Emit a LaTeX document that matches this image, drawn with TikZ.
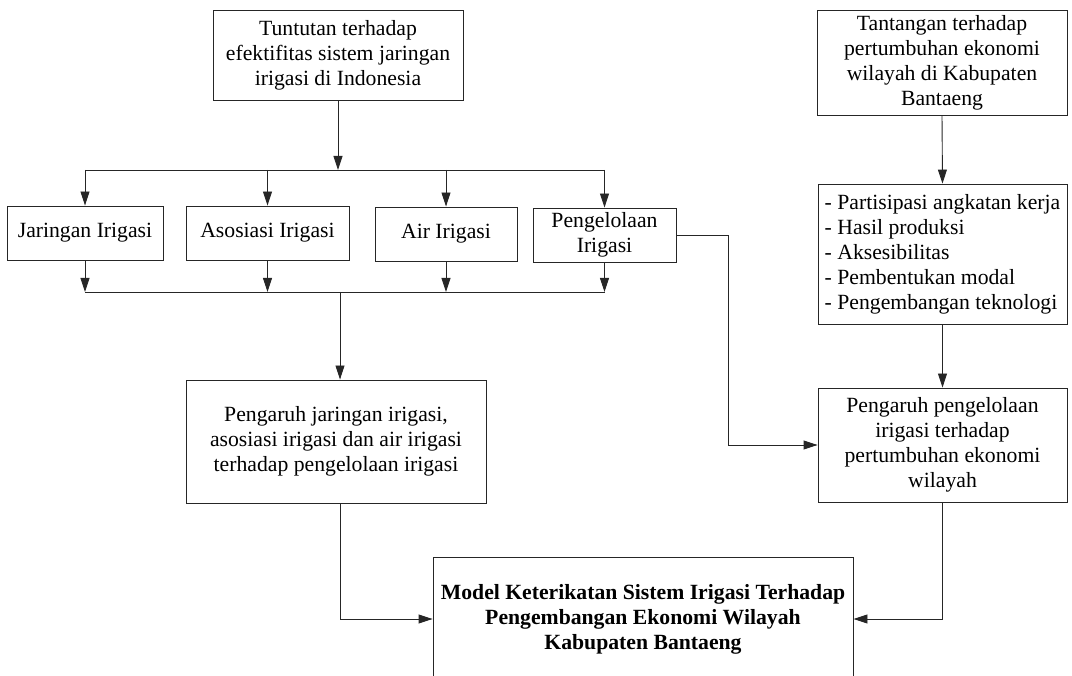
\documentclass[tikz,border=0pt]{standalone}
\usepackage{fontspec}
\setmainfont{Liberation Serif}
\usetikzlibrary{arrows.meta}
\begin{document}
\begin{tikzpicture}[x=1pt,y=-1pt,
  box/.style={draw=black!85, line width=0.9pt, inner sep=3pt, align=center,
    font=\fontsize{21.7}{25}\selectfont, text=black},
  conn/.style={draw=black!85, line width=0.9pt},
  arr/.style={conn, -{Triangle[length=14pt,width=9pt]}}]
\useasboundingbox (0,0) rectangle (1072,676);
% top-left
\node[box, minimum width=250pt, minimum height=90pt] (T) at (338,55)
  {Tuntutan terhadap\\efektifitas sistem jaringan\\irigasi di Indonesia};
% row
\node[box, minimum width=156pt, minimum height=54pt] (J) at (85,233) {Jaringan Irigasi};
\node[box, minimum width=163pt, minimum height=54pt] (A) at (267.5,233) {Asosiasi Irigasi};
\node[box, minimum width=142pt, minimum height=54pt] (W) at (446,234) {Air Irigasi};
\node[box, minimum width=143pt, minimum height=54pt] (G) at (604.5,235) {Pengelolaan\\Irigasi};
% middle left
\node[box, minimum width=300pt, minimum height=123pt] (P1) at (336,441.5)
  {Pengaruh jaringan irigasi,\\asosiasi irigasi dan air irigasi\\terhadap pengelolaan irigasi};
% bottom
\node[box, minimum width=420pt, minimum height=124pt, font=\fontsize{21.7}{25}\selectfont\bfseries] (M) at (643,619)
  {Model Keterikatan Sistem Irigasi Terhadap\\Pengembangan Ekonomi Wilayah\\Kabupaten Bantaeng};
% right column
\node[box, minimum width=250pt, minimum height=105pt] (R1) at (942,62.5)
  {Tantangan terhadap\\pertumbuhan ekonomi\\wilayah di Kabupaten\\Bantaeng};
\node[box, align=left, minimum width=249pt, minimum height=140pt] (R2) at (942.5,254)
  {- Partisipasi angkatan kerja\\- Hasil produksi\\- Aksesibilitas\\- Pembentukan modal\\- Pengembangan teknologi};
\node[box, minimum width=249pt, minimum height=114pt] (P2) at (942.5,445)
  {Pengaruh pengelolaan\\irigasi terhadap\\pertumbuhan ekonomi\\wilayah};
% bus coordinates
\coordinate (tb) at (338,170);
\coordinate (bb) at (340,292);
\coordinate (pm) at (340,619);
% top bus
\draw[arr] (T.south) -- (T.south |- tb);
\draw[conn] (J.north |- tb) -- (G.north |- tb);
\foreach \n in {J,A,W,G} \draw[arr] (\n.north |- tb) -- (\n.north);
% bottom bus
\foreach \n in {J,A,W,G} \draw[arr] (\n.south) -- (\n.south |- bb);
\draw[conn] (J.south |- bb) -- (G.south |- bb);
\draw[arr] (bb) -- (bb |- P1.north);
% P1 to M
\draw[arr] (P1.south -| pm) -- (pm) -- (M.west);
% Pengelolaan to P2
\draw[arr] (G.east) -- ++(52,0) |- (P2.west);
% right column
\draw[arr] (R1.south) -- (R2.north);
\draw[arr] (R2.south) -- (P2.north);
\draw[arr] (P2.south) |- (M.east);
\end{tikzpicture}
\end{document}
